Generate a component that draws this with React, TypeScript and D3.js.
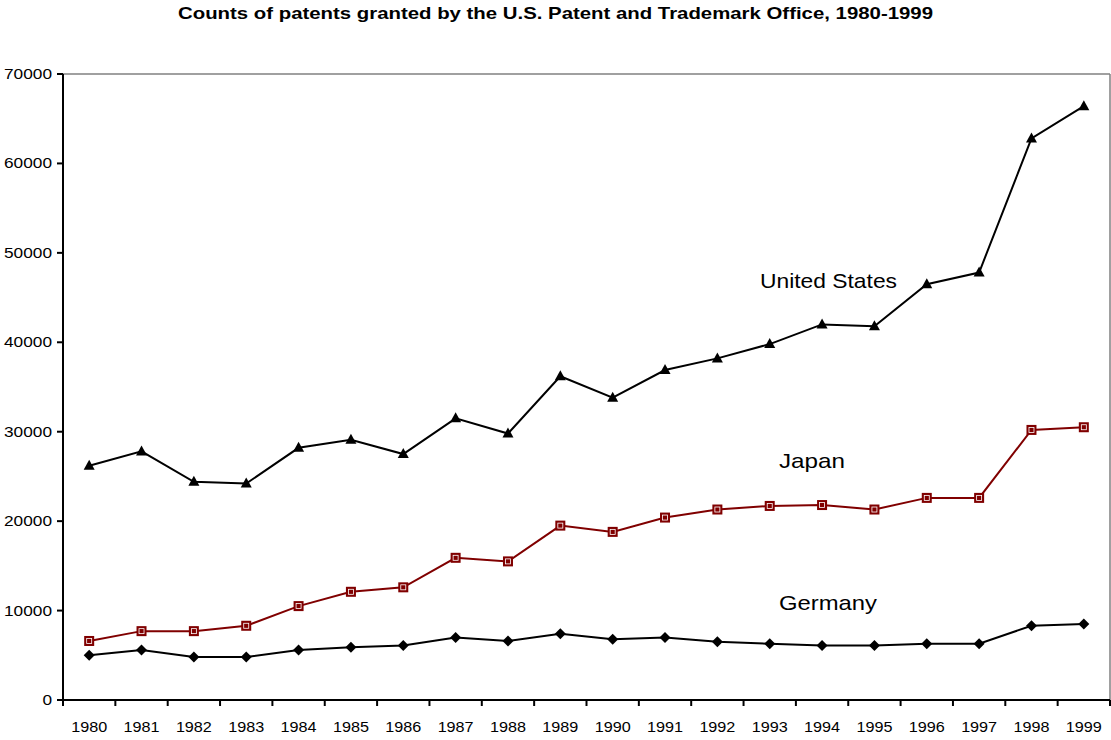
import React from "react";
import * as d3 from "d3";

const years = ["1980","1981","1982","1983","1984","1985","1986","1987","1988","1989","1990","1991","1992","1993","1994","1995","1996","1997","1998","1999"];
const usValues = [26200,27800,24400,24200,28200,29100,27500,31500,29800,36200,33800,36900,38200,39800,42000,41800,46500,47800,62800,66400];
const japanValues = [6600,7700,7700,8300,10500,12100,12600,15900,15500,19500,18800,20400,21300,21700,21800,21300,22600,22600,30200,30500];
const germanyValues = [5000,5600,4800,4800,5600,5900,6100,7000,6600,7400,6800,7000,6500,6300,6100,6100,6300,6300,8300,8500];
const yTicks = [0,10000,20000,30000,40000,50000,60000,70000];

const W = 1111, H = 740;
const left = 63, right = 1110, top = 74, bottom = 700;

export default function App() {
  const x = d3.scaleBand<string>().domain(years).range([left, right]).padding(0);
  const y = d3.scaleLinear().domain([0, 70000]).range([bottom, top]);
  const cx = (i: number) => (x(years[i]) as number) + x.bandwidth() / 2;
  const line = d3.line<number>().x((_, i) => cx(i)).y((d) => y(d));
  const font = "'Liberation Sans', Arial, sans-serif";
  return (
    <svg width={W} height={H} style={{ position: "absolute", left: 0, top: 0 }} fontFamily={font}>
      <rect x={0} y={0} width={W} height={H} fill="#fff" />
      <text x={178} y={19} fontSize={16.5} fontWeight="bold" fill="#000" textLength={755} lengthAdjust="spacingAndGlyphs">
        Counts of patents granted by the U.S. Patent and Trademark Office, 1980-1999
      </text>
      {/* plot border top/right */}
      <line x1={left} x2={right} y1={top} y2={top} stroke="#808080" strokeWidth={1.5} />
      <line x1={right} x2={right} y1={top} y2={bottom} stroke="#808080" strokeWidth={1.5} />
      {/* y axis */}
      <line x1={left} x2={left} y1={top} y2={bottom} stroke="#000" strokeWidth={2} />
      {yTicks.map((t) => {
        const s = String(t);
        const w = s.length * 9.6;
        return (
          <g key={t}>
            <line x1={left - 6} x2={left} y1={y(t)} y2={y(t)} stroke="#000" strokeWidth={2} />
            <text x={52 - w} y={y(t) + 5} fontSize={15} fill="#000" textLength={w} lengthAdjust="spacingAndGlyphs">{s}</text>
          </g>
        );
      })}
      {/* x axis */}
      <line x1={left} x2={right} y1={bottom} y2={bottom} stroke="#000" strokeWidth={2} />
      {years.map((yr, i) => (
        <g key={yr}>
          <line x1={x(yr) as number} x2={x(yr) as number} y1={bottom} y2={bottom + 6} stroke="#000" strokeWidth={2} />
          <text x={cx(i) - 18} y={732} fontSize={15.5} fill="#000" textLength={36} lengthAdjust="spacingAndGlyphs">{yr}</text>
        </g>
      ))}
      <line x1={right} x2={right} y1={bottom} y2={bottom + 6} stroke="#000" strokeWidth={2} />
      {/* series lines */}
      <path d={line(usValues) as string} fill="none" stroke="#000" strokeWidth={2} />
      <path d={line(japanValues) as string} fill="none" stroke="#800000" strokeWidth={2} />
      <path d={line(germanyValues) as string} fill="none" stroke="#000" strokeWidth={2} />
      {/* markers */}
      {usValues.map((v, i) => (
        <path key={"u" + i} d={`M${cx(i)},${y(v) - 6} L${cx(i) + 5.5},${y(v) + 4} L${cx(i) - 5.5},${y(v) + 4} Z`} fill="#000" />
      ))}
      {japanValues.map((v, i) => (
        <g key={"j" + i}>
          <rect x={cx(i) - 5} y={y(v) - 5} width={10} height={10} fill="#800000" />
          <rect x={cx(i) - 2.5} y={y(v) - 2.5} width={5} height={5} fill="none" stroke="#fff" strokeWidth={0.8} />
        </g>
      ))}
      {germanyValues.map((v, i) => (
        <path key={"g" + i} d={`M${cx(i)},${y(v) - 5.5} L${cx(i) + 5.5},${y(v)} L${cx(i)},${y(v) + 5.5} L${cx(i) - 5.5},${y(v)} Z`} fill="#000" />
      ))}
      {/* labels */}
      <text x={760} y={288} fontSize={21} fill="#000" textLength={137} lengthAdjust="spacingAndGlyphs">United States</text>
      <text x={779} y={468} fontSize={21} fill="#000" textLength={66} lengthAdjust="spacingAndGlyphs">Japan</text>
      <text x={779} y={610} fontSize={21} fill="#000" textLength={98} lengthAdjust="spacingAndGlyphs">Germany</text>
    </svg>
  );
}
